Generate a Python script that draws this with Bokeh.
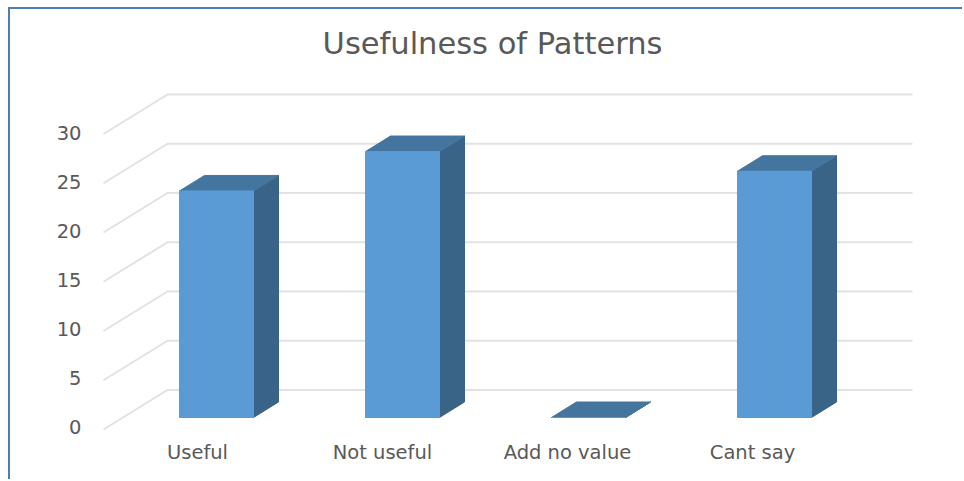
from bokeh.embed import file_html
from bokeh.models import FixedTicker, LinearAxis, Range1d, Title
from bokeh.plotting import figure
from bokeh.resources import INLINE

# Survey responses
categories = ["Useful", "Not useful", "Add no value", "Cant say"]
values = [23, 27, 0, 25]
y_ticks = [0, 5, 10, 15, 20, 25, 30]
title_text = "Usefulness of Patterns"

# Oblique projection of the 3-D column chart, in data units
BAR_HALF = 0.199
BAR_DX = 0.1344
BAR_DY = 1.574
WALL_DY = 2.79
FLOOR_DY = -1.22
GRID_X0 = -0.6075
GRID_X1 = -0.2634
GRID_X2 = 3.742

FRONT = "#5B9BD5"
TOP = "#44759F"
SIDE = "#3A6388"
GRID = "#E2E2E2"
TEXT = "#595959"
RULE = "#4A7EBB"
FONT = "DejaVu Sans"

p = figure(
    width=954, height=472, output_backend="svg", toolbar_location=None,
    margin=(0, 0, 0, 0),
    styles={"position": "absolute", "left": "8px", "top": "7px",
            "border-top": f"2px solid {RULE}", "border-left": f"2px solid {RULE}"},
    x_range=Range1d((20 - 216) / 186, 748 / 186),
    y_range=Range1d(-64 / 9.85, 357 / 9.85),
    min_border_left=10, min_border_right=0, min_border_bottom=0, min_border_top=51,
    x_axis_type=None, y_axis_type=None,
    background_fill_color="white", border_fill_color="white",
    outline_line_color=None,
)
p.grid.visible = False

p.title = Title(text=title_text, align="center",
                text_font=FONT, text_font_size="30.5px", text_font_style="normal",
                text_color=TEXT, standoff=0)

# Secondary ranges carry the tick labels, which sit ahead of the floor plane
p.extra_y_ranges["ticks"] = Range1d((426 - 481) / 9.8, (426 - 60) / 9.8)
p.extra_x_ranges["labels"] = Range1d((20 - 197) / 185, 767 / 185)

# Gridlines run across the side floor and along the back wall
grid_xs = [[GRID_X0, GRID_X1, GRID_X2] for _ in y_ticks]
grid_ys = [[v + FLOOR_DY, v + WALL_DY, v + WALL_DY] for v in y_ticks]
p.multi_line(grid_xs, grid_ys, line_color=GRID, line_width=2)

# Column faces
positions = list(range(len(categories)))
top_xs, top_ys, side_xs, side_ys = [], [], [], []
for x, v in zip(positions, values):
    l, r = x - BAR_HALF, x + BAR_HALF
    top_xs.append([l, r, r + BAR_DX, l + BAR_DX])
    top_ys.append([v, v, v + BAR_DY, v + BAR_DY])
    side_xs.append([r, r + BAR_DX, r + BAR_DX, r])
    side_ys.append([0, BAR_DY, v + BAR_DY, v])

p.patches(side_xs, side_ys, fill_color=SIDE, line_color=SIDE, line_width=1)
p.patches(top_xs, top_ys, fill_color=TOP, line_color=TOP, line_width=1)
p.vbar(x=positions, top=values, bottom=0, width=2 * BAR_HALF,
       fill_color=FRONT, line_color=FRONT, line_width=1)

# Value axis
y_axis = LinearAxis(y_range_name="ticks", ticker=FixedTicker(ticks=y_ticks),
                    fixed_location=-129 / 186)
# Category axis
x_axis = LinearAxis(x_range_name="labels", ticker=FixedTicker(ticks=positions),
                    major_label_overrides=dict(zip(positions, categories)),
                    fixed_location=(417 - 434) / 9.85)
for axis in (y_axis, x_axis):
    axis.axis_line_color = None
    axis.major_tick_line_color = None
    axis.minor_tick_line_color = None
    axis.major_label_standoff = 0
    axis.major_label_text_font = FONT
    axis.major_label_text_font_size = "19.5px"
    axis.major_label_text_color = TEXT
p.add_layout(y_axis, "left")
p.add_layout(x_axis, "below")

open("out.html", "w").write(file_html(p, INLINE))
